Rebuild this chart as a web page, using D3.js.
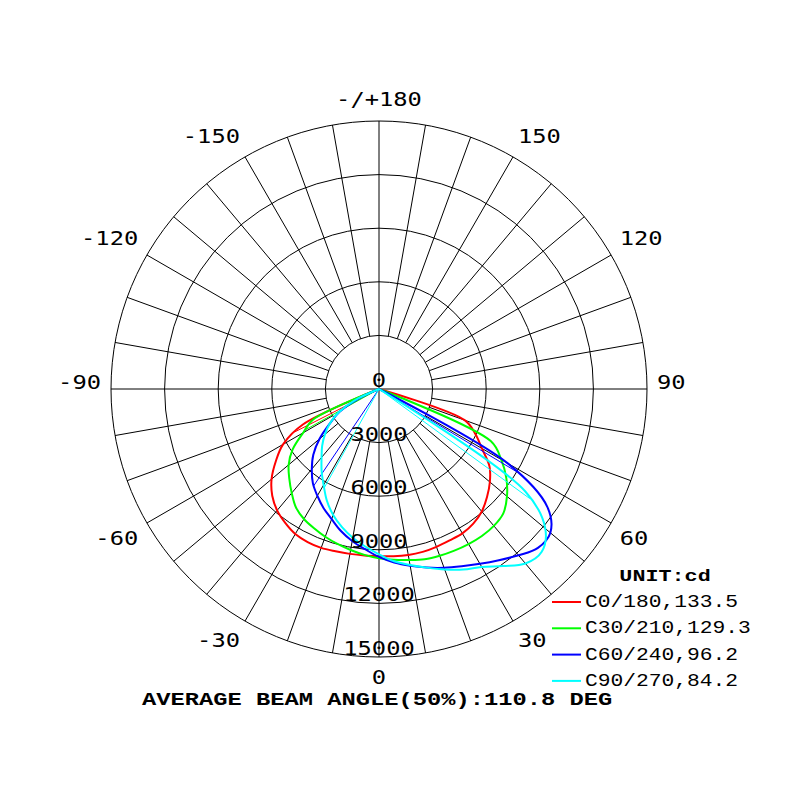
<!DOCTYPE html>
<html>
<head>
<meta charset="utf-8">
<script src="https://d3js.org/d3.v7.min.js"></script>
<style>
  body { margin: 0; background: #fff; }
  svg { display: block; }
  .grid { fill: none; stroke: #000; stroke-width: 1; }
  .tick { font-family: "DejaVu Sans Mono", monospace; font-size: 19px; fill: #000; }
  .legend { font-family: "Liberation Mono", monospace; font-size: 18.5px; fill: #000; }
  .unit { font-family: "Liberation Mono", monospace; font-size: 17px; font-weight: bold; fill: #000; }
  .note { font-family: "Liberation Mono", monospace; font-size: 19px; font-weight: bold; fill: #000; }
</style>
</head>
<body>
<script>
// gamma angle in degrees, 0 = straight down, negative = left half
var gammas = d3.range(-90, 91, 5);

// intensities (cd) at each gamma
var c0_180  = [0,0,0,0,0, 4700,6200,7050,7850,8450,8870,9150,9370,9450,9460,9400,9370,9350,
               9350, 9400,9440,9440,9400,9350,9330,9200,8950,8550,8100,7550,6650,5950,5100, 0,0,0,0];
var c30_210 = [0,0,0,0,0, 4100,4900,5900,6600,7100,7600,8100,8400,8600,8800,8980,9150,9320,
               9480, 9600,9720,9860,9930,9980,10020,10040,10000,9840,9350,8700,7900,6900, 0,0,0,0,0];
var c60_240 = [0,0,0,0,0, 1200,2550,3350,4350,5200,5850,6450,6900,7350,7750,8230,8640,9000,
               9400, 9750,10050,10350,10650,10950,11300,11700,12150,12580,12520,11500,8300, 0,0,0,0,0,0];
var c90_270 = [0,0,0,0,0, 1500,2600,3350,3950,4500,5000,5600,6200,6900,7500,8000,8450,8850,
               9250, 9680,10000,10350,10750,11150,11500,12100,12750,12880,12150,10000, 0,0,0,0,0,0,0];

var seriesNames = ["C0/180", "C30/210", "C60/240", "C90/270"];
var beamAngles = [133.5, 129.3, 96.2, 84.2];
var colors = ["#ff0000", "#00ff00", "#0000ff", "#00ffff"];
// thin straight strokes from the centre seen on some curves (gamma, deg)
var spokes = [[-63], [-61], [-34, 59], [-29, 54]];

var ringValues = [3000, 6000, 9000, 12000, 15000];
var ringLabels = [0, 3000, 6000, 9000, 12000, 15000];
var angleTicks = [0, 30, 60, 90, 120, 150, 180, -150, -120, -90, -60, -30];
var angleTickLabels = ["0", "30", "60", "90", "120", "150", "-/+180", "-150", "-120", "-90", "-60", "-30"];
var unitLabel = "UNIT:cd";

var width = 800, height = 800;
var cx = 379, cy = 389, R = 268;
var rad = Math.PI / 180;

var svg = d3.select("body").append("svg")
  .attr("width", width)
  .attr("height", height);

var r = d3.scaleLinear().domain([0, 15000]).range([0, R]);

var g = svg.append("g").attr("transform", "translate(" + cx + "," + cy + ")");

// text helper, the reference type is stretched horizontally
function label(parent, x, y, str, cls, anchor, sx) {
  return parent.append("text")
    .attr("class", cls)
    .attr("text-anchor", anchor)
    .attr("transform", "translate(" + x + "," + y + ") scale(" + sx + ",1)")
    .text(str);
}

// rings
g.selectAll("circle.ring")
  .data(ringValues)
  .enter().append("circle")
  .attr("class", "grid ring")
  .attr("r", d => r(d));

// spokes every 10 deg, from first ring outwards
var spokeAngles = d3.range(0, 360, 10).filter(a => a % 90 != 0);
g.selectAll("line.spoke")
  .data(spokeAngles)
  .enter().append("line")
  .attr("class", "grid spoke")
  .attr("x1", d => r(ringValues[0]) * Math.sin(d * rad))
  .attr("y1", d => r(ringValues[0]) * Math.cos(d * rad))
  .attr("x2", d => R * Math.sin(d * rad))
  .attr("y2", d => R * Math.cos(d * rad));

// main axes through the centre
g.selectAll("line.axis")
  .data([0, 90])
  .enter().append("line")
  .attr("class", "grid axis")
  .attr("x1", d => -R * Math.sin(d * rad))
  .attr("y1", d => -R * Math.cos(d * rad))
  .attr("x2", d => R * Math.sin(d * rad))
  .attr("y2", d => R * Math.cos(d * rad));

// curves
var radial = d3.lineRadial()
  .angle(d => Math.PI - d.g * rad)
  .radius(d => r(d.v))
  .curve(d3.curveCatmullRom.alpha(0.5));

var series = [c0_180, c30_210, c60_240, c90_270];

function valueAt(vals, a) {
  var i = Math.floor((a - gammas[0]) / 5);
  var t = (a - gammas[i]) / 5;
  return vals[i] + (vals[i + 1] - vals[i]) * t;
}

series.forEach(function (vals, k) {
  var pts = gammas.map((a, i) => ({ g: a, v: vals[i] })).filter(d => d.v > 0);
  pts.unshift({ g: -90, v: 0 });
  pts.push({ g: 90, v: 0 });

  g.append("path")
    .datum(pts)
    .attr("d", radial)
    .attr("fill", "none")
    .attr("stroke", colors[k])
    .attr("stroke-width", 2);

  g.selectAll("line.s" + k)
    .data(spokes[k])
    .enter().append("line")
    .attr("class", "s" + k)
    .attr("x1", 0).attr("y1", 0)
    .attr("x2", d => r(valueAt(vals, d)) * Math.sin(d * rad))
    .attr("y2", d => r(valueAt(vals, d)) * Math.cos(d * rad))
    .attr("stroke", colors[k])
    .attr("stroke-width", 1);
});

// ring labels
ringLabels.forEach(function (v) {
  label(g, 0, r(v) - 2, v, "tick", "middle", 1.25);
});

// angle labels
var labR = 278;
angleTicks.forEach(function (a, i) {
  var s = Math.sin(a * rad), c = Math.cos(a * rad);
  var px = labR * s, py = labR * c;
  var anchor = s > 0.01 ? "start" : (s < -0.01 ? "end" : "middle");
  var mid = c > 0.01 ? py + 10 : (c < -0.01 ? py - 12 : py - 7);
  label(g, px, mid + 7, angleTickLabels[i], "tick", anchor, 1.25);
});

// legend
var legend = svg.append("g");
label(legend, 665, 581, unitLabel, "unit", "middle", 1.28);
seriesNames.forEach(function (name, k) {
  var y = 602 + k * 26.3;
  legend.append("line")
    .attr("x1", 552).attr("x2", 581)
    .attr("y1", y).attr("y2", y)
    .attr("stroke", colors[k])
    .attr("stroke-width", 2);
  label(legend, 585, y + 5, name + "," + beamAngles[k].toFixed(1), "legend", "start", 1.15);
});

// average beam angle
var avgBeam = d3.mean(beamAngles);
label(svg, 142, 705, "AVERAGE BEAM ANGLE(50%):" + avgBeam.toFixed(1) + " DEG", "note", "start", 1.25);
</script>
</body>
</html>
